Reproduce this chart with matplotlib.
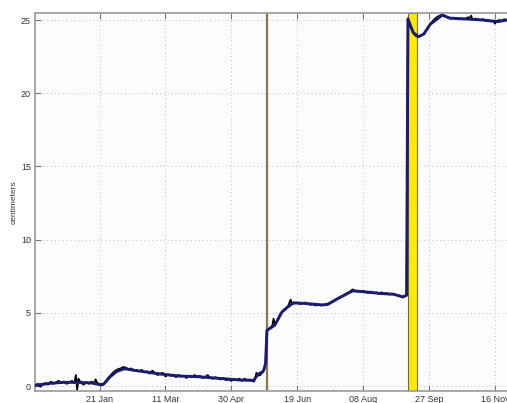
import matplotlib
matplotlib.use("Agg")
import matplotlib.pyplot as plt
import matplotlib.dates as mdates
import numpy as np
import datetime as dt

plt.rcParams['font.family'] = ['Liberation Sans', 'DejaVu Sans']

start = dt.datetime(2011, 12, 3)

# raw (black) series: day offset from start, centimeters
raw_days = [0, 2, 4, 6, 8, 10, 12, 14, 16, 18, 20, 22, 24, 26, 28, 30, 31, 32, 33, 35,
            37, 39, 41, 43, 45, 46, 47, 49, 51, 53, 55, 57, 59, 61, 63, 65, 67, 69, 71, 73,
            75, 77, 79, 81, 83, 85, 87, 89, 91, 93, 95, 97, 99, 101, 103, 105, 107, 109, 111, 113,
            115, 117, 119, 121, 123, 125, 127, 129, 131, 133, 135, 137, 139, 141, 143, 145, 147, 149, 151, 153,
            155, 157, 159, 161, 163, 165, 166, 167, 168, 169, 171, 173, 174, 175, 176, 178, 180, 181, 182, 184,
            186, 188, 190, 192, 194, 195, 197, 199, 201, 203, 205, 207, 209, 211, 213, 215, 217, 219, 221, 223,
            225, 227, 229, 231, 233, 235, 237, 239, 241, 243, 245, 247, 249, 251, 253, 255, 257, 259, 261, 263,
            265, 267, 269, 271, 273, 275, 277, 279, 281, 282, 283, 284, 285, 287, 289, 291, 293, 295, 297, 299,
            301, 303, 305, 307, 309, 311, 313, 315, 317, 319, 321, 323, 325, 327, 329, 330, 331, 332, 334, 336,
            338, 340, 342, 344, 346, 348, 349, 350, 352, 354, 356, 358]
raw_vals = [0.0, 0.15, -0.05, 0.1, 0.2, 0.1, 0.3, 0.15, 0.25, 0.35, 0.2, 0.3, 0.15, 0.25, 0.35, 0.2, 0.75, -0.25, 0.5, 0.2,
            0.1, 0.25, 0.15, 0.3, 0.2, 0.45, 0.25, 0.1, 0.05, 0.2, 0.5, 0.7, 0.9, 1.05, 1.15, 1.2, 1.3, 1.25, 1.15, 1.2,
            1.05, 1.1, 1.0, 1.1, 0.95, 1.0, 0.85, 1.05, 0.9, 0.75, 0.85, 0.9, 0.65, 0.8, 0.7, 0.75, 0.6, 0.75, 0.65, 0.7,
            0.55, 0.7, 0.6, 0.75, 0.65, 0.7, 0.55, 0.6, 0.75, 0.55, 0.5, 0.6, 0.5, 0.45, 0.55, 0.4, 0.45, 0.35, 0.45, 0.4,
            0.5, 0.35, 0.5, 0.4, 0.45, 0.35, 0.3, 0.5, 0.9, 0.7, 0.75, 1.0, 1.2, 1.6, 3.8, 3.95, 4.1, 4.6, 4.2, 4.5,
            4.9, 5.1, 5.3, 5.45, 5.9, 5.6, 5.65, 5.7, 5.6, 5.65, 5.7, 5.6, 5.55, 5.6, 5.5, 5.55, 5.5, 5.55, 5.6, 5.65,
            5.75, 5.85, 5.95, 6.05, 6.15, 6.25, 6.35, 6.45, 6.6, 6.5, 6.5, 6.45, 6.5, 6.4, 6.35, 6.45, 6.35, 6.4, 6.3, 6.4,
            6.3, 6.35, 6.25, 6.3, 6.25, 6.2, 6.15, 6.05, 6.15, 6.25, 25.1, 24.9, 24.5, 24.1, 23.9, 23.85, 23.95, 24.05, 24.3, 24.6,
            24.85, 25.05, 25.2, 25.3, 25.35, 25.3, 25.15, 25.1, 25.15, 25.1, 25.05, 25.1, 25.05, 25.1, 25.2, 25.05, 25.3, 25.0, 25.1, 25.05,
            25.0, 25.05, 24.95, 25.0, 24.9, 24.95, 24.75, 24.9, 25.0, 24.95, 25.05, 25.0]

# smoothed (navy) series
smooth_days = [0, 11, 21, 32, 42, 49, 52, 57, 62, 68, 77, 85, 95, 110, 125, 140, 156, 166, 169, 173,
               174, 175, 176, 182, 187.5, 192, 196, 205, 218, 222, 230, 241, 251, 262, 272, 279, 282, 283, 287, 291,
               295, 300, 309, 315, 328, 340, 351, 358]
smooth_vals = [0.05, 0.18, 0.25, 0.25, 0.22, 0.1, 0.12, 0.63, 1.0, 1.18, 1.05, 0.95, 0.82, 0.68, 0.63, 0.52, 0.41, 0.38, 0.8, 0.98,
               1.2, 1.6, 3.8, 4.16, 5.07, 5.41, 5.68, 5.64, 5.54, 5.57, 5.98, 6.5, 6.43, 6.32, 6.27, 6.09, 6.2, 25.07, 24.15, 23.86,
               24.04, 24.72, 25.33, 25.13, 25.07, 25.0, 24.89, 25.0]

event_date = dt.datetime(2012, 5, 27)
band_start = dt.datetime(2012, 9, 11)
band_end = dt.datetime(2012, 9, 18)

tick_dates = [dt.datetime(2012, 1, 21), dt.datetime(2012, 3, 11), dt.datetime(2012, 4, 30),
              dt.datetime(2012, 6, 19), dt.datetime(2012, 8, 8), dt.datetime(2012, 9, 27),
              dt.datetime(2012, 11, 16)]
ytick_vals = [0, 5, 10, 15, 20, 25]

raw_t = [start + dt.timedelta(days=d) for d in raw_days]
sm_t = [start + dt.timedelta(days=d) for d in smooth_days]

fig = plt.figure(figsize=(5.07, 4.03), dpi=100)
ax = fig.add_axes([35/507, 12.3/403, 481/507, 377.7/403])
ax.set_facecolor('#fcfcfc')

ax.axvspan(band_start, band_end, facecolor='#ffea00', edgecolor='#6f6a3a', lw=0.8, zorder=1)
ax.axvline(event_date, color='#857a4e', lw=1.6, zorder=1)

ax.plot(raw_t, raw_vals, color='black', lw=1.3, zorder=3)
ax.plot(sm_t, smooth_vals, color='#1c1c6e', lw=2.1, zorder=4, solid_capstyle='round')

ax.set_xlim(start, start + dt.timedelta(days=365))
ax.set_ylim(-0.32, 25.48)
ax.set_xticks(tick_dates)
ax.xaxis.set_major_formatter(mdates.DateFormatter('%d %b'))
ax.set_yticks(ytick_vals)

ax.grid(True, color='#c0c0c0', ls=(0, (1, 3)), lw=0.7)
ax.set_axisbelow(True)
ax.tick_params(direction='in', length=4, width=0.8, color='#777777',
               labelsize=6.5, labelcolor='#333333', top=True, pad=3)
for s in ax.spines.values():
    s.set_color('#999999')
    s.set_linewidth(1.2)

ax.set_ylabel('centimeters', fontsize=6, color='#333333', labelpad=2)

fig.savefig('out.png', dpi=100)
